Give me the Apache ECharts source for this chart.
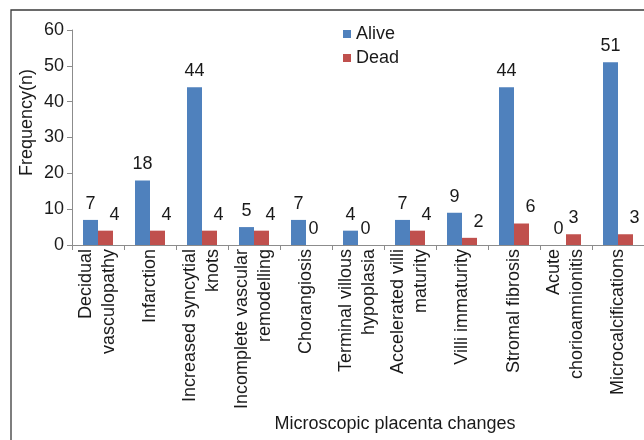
<!DOCTYPE html>
<html>
<head>
<meta charset="UTF-8">
<title>Microscopic placenta changes</title>
<script src="https://cdn.jsdelivr.net/npm/echarts@6/dist/echarts.min.js"></script>
<style type="text/css">
    html,body{
        margin:0;
        height:100%;
        background:#fff;
    }
</style>
</head>
<body>
<div id="container" style="width:644px;height:440px"></div>
<script type="text/javascript">
	var categories = ['Decidual\nvasculopathy', 'Infarction', 'Increased syncytial\nknots',
		'Incomplete vascular\nremodelling', 'Chorangiosis', 'Terminal villous\nhypoplasia',
		'Accelerated villi\nmaturity', 'Villi immaturity', 'Stromal fibrosis',
		'Acute\nchorioamnionitis', 'Microcalcifications'];
	var alive = [7, 18, 44, 5, 7, 4, 7, 9, 44, 0, 51];
	var dead = [4, 4, 4, 4, 0, 0, 4, 2, 6, 3, 3];
	var yTicks = [0, 10, 20, 30, 40, 50, 60];

	var font = 'Liberation Sans, Arial, sans-serif';
	var ink = '#1a1a1a';
	var fs = 18;

	// red labels sit a bit to the right, except where a zero would collide
	var deadData = dead.map(function (v, i) {
		if (v === 0 || alive[i] === 0) {
			return { value: v, label: { offset: [0, 0] } };
		}
		return v;
	});

	var chart = echarts.init(document.getElementById('container'));
	var option = {
		backgroundColor: '#fff',
		textStyle: { fontFamily: font },
		animation: false,
		graphic: [{
			type: 'rect',
			shape: { x: 11, y: 10, width: 700, height: 500 },
			style: { fill: 'none', stroke: '#3a3a3a', lineWidth: 1.3 },
			silent: true
		}],
		legend: {
			orient: 'vertical',
			left: 338,
			top: 20,
			itemWidth: 8,
			itemHeight: 8,
			itemGap: 6,
			icon: 'rect',
			textStyle: { fontSize: fs, color: ink, fontFamily: font },
			data: ['Alive', 'Dead']
		},
		grid: { left: 72, right: 0, top: 30, bottom: 195, containLabel: false },
		xAxis: {
			type: 'category',
			data: categories,
			name: 'Microscopic placenta changes',
			nameLocation: 'middle',
			nameGap: 170,
			nameMoveOverlap: false,
			nameTextStyle: { fontSize: fs, color: ink, fontFamily: font, padding: [0, 0, 0, 74] },
			axisLine: { lineStyle: { color: '#8c8c8c', width: 1 } },
			axisTick: { show: true, length: 5, lineStyle: { color: '#8c8c8c' } },
			axisLabel: {
				rotate: 90,
				interval: 0,
				margin: 4,
				fontSize: fs,
				lineHeight: 23,
				padding: [8, 0, 0, 0],
				color: ink,
				fontFamily: font
			}
		},
		yAxis: {
			type: 'value',
			min: yTicks[0],
			max: yTicks[yTicks.length - 1],
			interval: 10,
			name: 'Frequency(n)',
			nameLocation: 'middle',
			nameGap: 36,
			nameMoveOverlap: false,
			nameTextStyle: { fontSize: fs, color: ink, fontFamily: font, padding: [0, 0, 0, 30] },
			splitLine: { show: false },
			axisLine: { show: true, lineStyle: { color: '#8c8c8c', width: 1 } },
			axisTick: { show: true, length: 5, lineStyle: { color: '#8c8c8c' } },
			axisLabel: { fontSize: fs, color: ink, margin: 8, fontFamily: font }
		},
		series: [{
			name: 'Alive',
			type: 'bar',
			data: alive,
			barWidth: 15,
			barGap: '0%',
			itemStyle: { color: '#4F81BD' },
			label: {
				show: true,
				position: 'top',
				distance: 7,
				fontSize: fs,
				color: ink,
				fontFamily: font
			}
		}, {
			name: 'Dead',
			type: 'bar',
			data: deadData,
			barWidth: 15,
			barGap: '0%',
			itemStyle: { color: '#C0504D' },
			label: {
				show: true,
				position: 'top',
				distance: 7,
				offset: [9, 0],
				fontSize: fs,
				color: ink,
				fontFamily: font
			}
		}]
	};
	chart.setOption(option);
</script>
</body>
</html>
